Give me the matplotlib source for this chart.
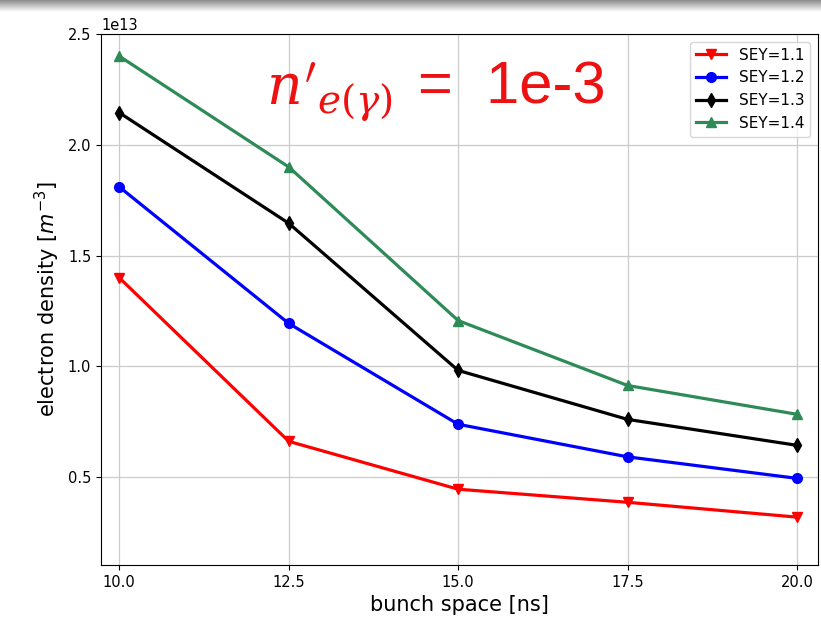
import matplotlib
matplotlib.use("Agg")
import matplotlib.pyplot as plt
import numpy as np

bunch_space = [10.0, 12.5, 15.0, 17.5, 20.0]
sey_labels = ["SEY=1.1", "SEY=1.2", "SEY=1.3", "SEY=1.4"]
sey_11 = [1.40e13, 0.662e13, 0.446e13, 0.387e13, 0.320e13]
sey_12 = [1.81e13, 1.194e13, 0.739e13, 0.592e13, 0.495e13]
sey_13 = [2.145e13, 1.646e13, 0.982e13, 0.761e13, 0.644e13]
sey_14 = [2.40e13, 1.90e13, 1.207e13, 0.914e13, 0.784e13]
series = [sey_11, sey_12, sey_13, sey_14]
colors = ["#ff0000", "#0000ff", "#000000", "#2e8b57"]
markers = ["v", "o", "d", "^"]

plt.rcParams["mathtext.fontset"] = "dejavuserif"

fig = plt.figure(figsize=(8.21, 6.32), dpi=100)
ax = fig.add_axes([101/821, 67/632, 717/821, 531/632])

for vals, lab, c, m in zip(series, sey_labels, colors, markers):
    ax.plot(bunch_space, vals, color=c, marker=m, lw=2.3, ms=7, label=lab)

ax.set_xlim(9.73, 20.31)
ax.set_ylim(0.104e13, 2.5e13)
ax.set_xticks([10.0, 12.5, 15.0, 17.5, 20.0])
ax.set_yticks([0.5e13, 1.0e13, 1.5e13, 2.0e13, 2.5e13])
ax.grid(True, color="#cccccc", lw=0.9)
ax.tick_params(labelsize=10.5)
ax.set_xlabel("bunch space [ns]", fontsize=15)
ax.set_ylabel("electron density [$m^{-3}$]", fontsize=15)
ax.yaxis.label.set_math_fontfamily("dejavusans")
ax.yaxis.get_offset_text().set_fontsize(10.5)
leg = ax.legend(loc="upper right", fontsize=11, framealpha=0.8)

# top gray band
band = fig.add_axes([0, 1 - 12/632, 1, 12/632])
grad = np.linspace(0.55, 1.0, 50).reshape(-1, 1)
band.imshow(grad, aspect="auto", cmap="gray", vmin=0, vmax=1, extent=[0, 1, 0, 1])
band.axis("off")

fig.text(266/821, 1 - 104/632, r"$n'_{e(\gamma)}$", color="#ee1111", fontsize=40,
         va="baseline", ha="left")
fig.text(418/821, 1 - 104/632, "=  1e-3", color="#ee1111", fontsize=43,
         family="Liberation Sans", va="baseline", ha="left")

fig.savefig("out.png", dpi=100)
